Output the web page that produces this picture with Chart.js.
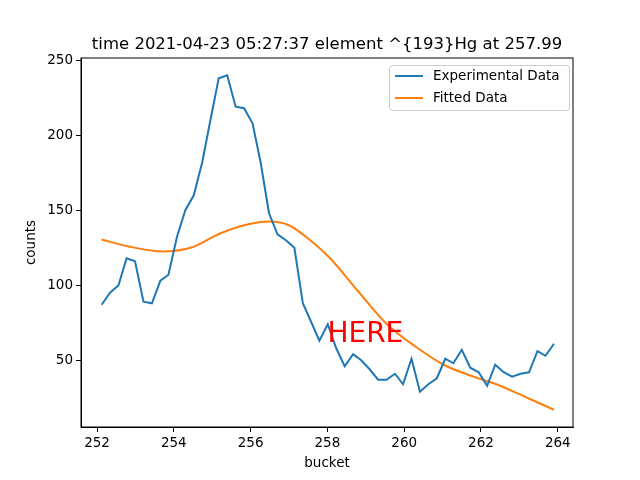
<!DOCTYPE html>
<html><head><meta charset="utf-8">
<script src="https://cdn.jsdelivr.net/npm/chart.js@4/dist/chart.umd.min.js"></script>
<style>html,body{margin:0;padding:0;background:#fff}#w{width:640px;height:480px}</style>
</head><body><div id="w"><canvas id="c" width="640" height="480"></canvas></div>
<script>
const titleText = "time 2021-04-23 05:27:37 element ^{193}Hg at 257.99";
const bucketX = [252.12,252.34,252.56,252.77,252.99,253.21,253.43,253.65,253.86,254.08,254.30,254.52,254.74,254.96,255.17,255.39,255.61,255.83,256.05,256.26,256.48,256.70,256.92,257.14,257.36,257.57,257.79,258.01,258.23,258.45,258.67,258.88,259.10,259.32,259.54,259.76,259.97,260.19,260.41,260.63,260.85,261.07,261.28,261.50,261.72,261.94,262.16,262.37,262.59,262.81,263.03,263.25,263.47,263.68,263.90];
const expCounts = [87,95,100,118,116,89,88,103,107,132,150,160,182,211,238,240,219,218,208,182,148,134,130,125,88,76,63,74,58,46,54,50,44,37,37,41,34,51,29,34,38,51,48,57,45,42,33,47,42,39,41,42,56,53,61];
const fitX = [252.12,252.8,253.7,254.5,255.2,256.0,256.5,257.0,257.6,258.07,258.8,259.55,260.3,261.03,261.7,262.4,263.2,263.9];
const fitCounts = [130.5,126,122.5,125.5,134.5,141,142.5,140,129,118,96,74,59,47,40,34,25,17];
const xTicks = [252,254,256,258,260,262,264];
const yTicks = [50,100,150,200,250];
const labels = ["Experimental Data","Fitted Data"];
const colors = ["#1f77b4","#ff7f0e"];
const FONT = "'DejaVu Sans', sans-serif";

const deco = {
  id:'deco',
  afterDraw(ch){
    const c=ch.ctx, a=ch.chartArea, xs=ch.scales.x, ys=ch.scales.y;
    c.save();
    c.fillStyle='#000'; c.textAlign='center'; c.textBaseline='alphabetic';
    c.font="16.5px "+FONT;
    c.fillText(titleText,(a.left+a.right)/2,49);
    c.font="13.5px "+FONT;
    c.fillText("bucket",(a.left+a.right)/2,467);
    c.save(); c.translate(35,(a.top+a.bottom)/2); c.rotate(-Math.PI/2); c.fillText("counts",0,0); c.restore();
    c.fillStyle='red'; c.textAlign='left'; c.font="28px "+FONT;
    c.fillText("HERE", xs.getPixelForValue(258.0), ys.getPixelForValue(62));
    const lx=389, ly=65, lw=180, lh=45;
    c.fillStyle='rgba(255,255,255,0.8)'; c.strokeStyle='#cccccc'; c.lineWidth=1;
    c.beginPath(); c.roundRect(lx+0.5,ly+0.5,lw,lh,3); c.fill(); c.stroke();
    c.font="13.5px "+FONT; c.textBaseline='middle';
    for(let i=0;i<2;i++){
      const yy=ly+11+i*22;
      c.strokeStyle=colors[i]; c.lineWidth=2;
      c.beginPath(); c.moveTo(lx+6,yy); c.lineTo(lx+34,yy); c.stroke();
      c.fillStyle='#000'; c.fillText(labels[i],lx+44,yy);
    }
    c.restore();
  }
};

new Chart(document.getElementById('c'),{
  type:'line',
  data:{datasets:[
    {label:labels[0],data:bucketX.map((x,i)=>({x,y:expCounts[i]})),borderColor:colors[0],borderWidth:2,pointRadius:0,tension:0},
    {label:labels[1],data:fitX.map((x,i)=>({x,y:fitCounts[i]})),borderColor:colors[1],borderWidth:2,pointRadius:0,cubicInterpolationMode:'monotone'}
  ]},
  options:{
    responsive:false,animation:false,
    layout:{padding:{top:58,right:67,left:0,bottom:0}},
    plugins:{legend:{display:false},title:{display:false},tooltip:{enabled:false}},
    scales:{
      x:{type:'linear',min:251.583,max:264.396,
        afterBuildTicks(s){s.ticks=xTicks.map(v=>({value:v}));},
        afterFit(s){s.height=53;},
        grid:{drawOnChartArea:false,tickLength:5,color:'#000'},
        border:{color:'#000',width:1},
        ticks:{color:'#000',font:{family:FONT,size:13.5},padding:3,maxRotation:0,autoSkip:false}},
      y:{type:'linear',min:5.5,max:251.5,
        afterBuildTicks(s){s.ticks=yTicks.map(v=>({value:v}));},
        afterFit(s){s.width=81;},
        grid:{drawOnChartArea:false,tickLength:5,color:'#000'},
        border:{color:'#000',width:1},
        ticks:{color:'#000',font:{family:FONT,size:13.5},padding:3,autoSkip:false}}
    }
  },
  plugins:[deco,{id:'frame',afterDraw(ch){const c=ch.ctx,a=ch.chartArea;c.save();c.strokeStyle='#000';c.lineWidth=1;c.strokeRect(a.left,a.top,a.right-a.left,a.bottom-a.top);c.restore();}}]
});
</script></body></html>
